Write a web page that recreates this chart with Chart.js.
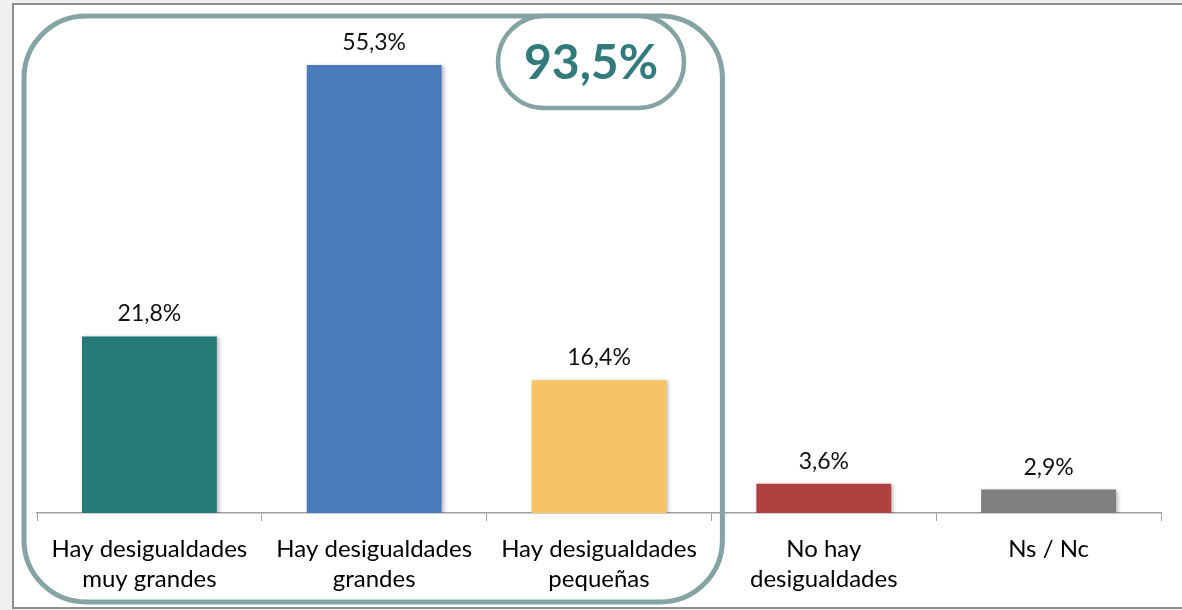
<!DOCTYPE html>
<html>
<head>
<meta charset="utf-8">
<script src="https://cdn.jsdelivr.net/npm/chart.js@4.4.1/dist/chart.umd.min.js"></script>
<style>
  html, body { margin:0; padding:0; width:1182px; height:610px; background:#f0f0f0; overflow:hidden; }
  #panel { position:absolute; left:12px; top:3px; width:1180px; height:602px; background:#fff; border:2px solid #8e8e8e; }
  #wrap { position:absolute; left:0; top:0; width:1182px; height:610px; }
</style>
</head>
<body>
<div id="panel"></div>
<div id="wrap"><canvas id="c" width="1182" height="610"></canvas></div>
<script>
const categories = [
  ["Hay desigualdades", "muy grandes"],
  ["Hay desigualdades", "grandes"],
  ["Hay desigualdades", "pequeñas"],
  ["No hay", "desigualdades"],
  ["Ns / Nc"]
];
const values = [21.8, 55.3, 16.4, 3.6, 2.9];
const barColors = ["#267b78", "#4a7bbd", "#f6c464", "#b04141", "#7f7f7f"];
const totalLabel = "93,5%";

const fmt = v => v.toFixed(1).replace(".", ",") + "%";
const FONT = "Lato, 'Open Sans', sans-serif";

const shadowPlugin = {
  id: 'shadow',
  beforeDatasetsDraw(chart) {
    const ctx = chart.ctx;
    ctx.save();
    ctx.shadowColor = 'rgba(0,0,0,0.28)';
    ctx.shadowBlur = 4;
    ctx.shadowOffsetX = 2;
    ctx.shadowOffsetY = 1;
  },
  afterDatasetsDraw(chart) {
    chart.ctx.restore();
  }
};

const labelsPlugin = {
  id: 'valueLabels',
  afterDatasetsDraw(chart) {
    const ctx = chart.ctx;
    const meta = chart.getDatasetMeta(0);
    ctx.save();
    ctx.font = "23px " + FONT;
    ctx.fillStyle = "#111";
    ctx.textAlign = "center";
    ctx.textBaseline = "alphabetic";
    meta.data.forEach((bar, i) => {
      ctx.fillText(fmt(values[i]), bar.x, bar.y - 15);
    });
    ctx.restore();
  }
};

function roundRect(ctx, x, y, w, h, r) {
  ctx.beginPath();
  ctx.moveTo(x + r, y);
  ctx.lineTo(x + w - r, y);
  ctx.arcTo(x + w, y, x + w, y + r, r);
  ctx.lineTo(x + w, y + h - r);
  ctx.arcTo(x + w, y + h, x + w - r, y + h, r);
  ctx.lineTo(x + r, y + h);
  ctx.arcTo(x, y + h, x, y + h - r, r);
  ctx.lineTo(x, y + r);
  ctx.arcTo(x, y, x + r, y, r);
  ctx.closePath();
}

const framePlugin = {
  id: 'frame',
  afterDraw(chart) {
    const ctx = chart.ctx;
    const xs = chart.scales.x;
    const step = (xs.right - xs.left) / categories.length;
    const left = xs.left - 13;
    const right = xs.left + 3 * step + 11;
    const top = 16;
    const bottom = 602;
    ctx.save();
    ctx.strokeStyle = "#86a3a4";
    ctx.lineWidth = 5;
    roundRect(ctx, left, top, right - left, bottom - top, 62);
    ctx.stroke();
    // pill
    const pw = 186, ph = 92;
    const pcx = xs.left + 2.5 * step - 8;
    const pcy = 62;
    ctx.lineWidth = 4.5;
    ctx.fillStyle = "#fff";
    roundRect(ctx, pcx - pw / 2, pcy - ph / 2, pw, ph, 46);
    ctx.fill();
    ctx.stroke();
    ctx.fillStyle = "#327b7d";
    ctx.font = "bold 48px " + FONT;
    ctx.textAlign = "center";
    ctx.textBaseline = "middle";
    ctx.fillText(totalLabel, pcx, pcy + 2);
    ctx.restore();
  }
};

new Chart(document.getElementById('c'), {
  type: 'bar',
  data: {
    labels: categories,
    datasets: [{
      data: values,
      backgroundColor: barColors,
      borderWidth: 0,
      categoryPercentage: 0.6,
      barPercentage: 1.0
    }]
  },
  options: {
    responsive: false,
    animation: false,
    devicePixelRatio: 1,
    layout: { padding: { left: 37, right: 21, top: 27, bottom: 3 } },
    plugins: { legend: { display: false }, tooltip: { enabled: false } },
    scales: {
      y: { display: false, min: 0, max: 60 },
      x: {
        grid: { display: true, drawOnChartArea: false, drawTicks: true, tickLength: 8, color: "#a0a0a0", offset: true },
        border: { display: true, color: "#a0a0a0", width: 1.5 },
        ticks: { color: "#000", font: { family: FONT, size: 24, lineHeight: 1.25 }, padding: 13, maxRotation: 0, autoSkip: false }
      }
    }
  },
  plugins: [shadowPlugin, labelsPlugin, framePlugin]
});
</script>
</body>
</html>
